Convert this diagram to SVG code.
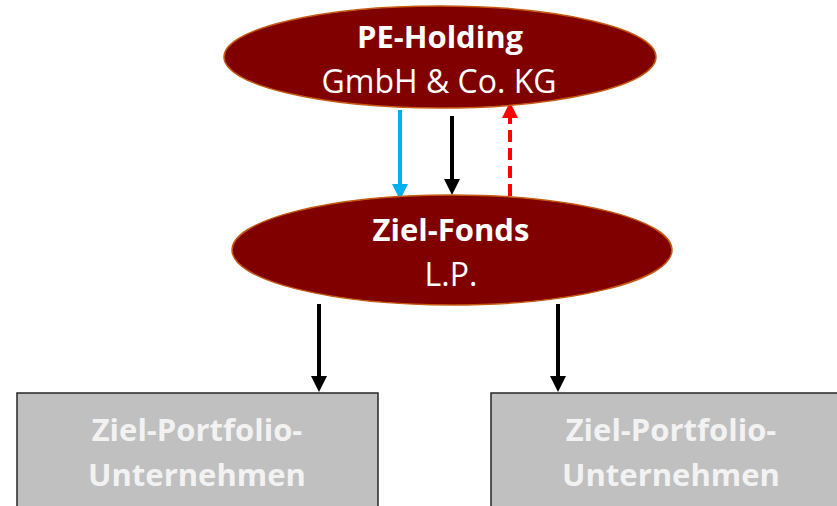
<svg xmlns="http://www.w3.org/2000/svg" width="837" height="506" viewBox="0 0 837 506">
  <style>
    .oval { fill: #800000; stroke: #C55A11; stroke-width: 1.5; }
    .box { fill: #C0C0C0; stroke: #262626; stroke-width: 1.5; }
    .t { font-family: "Open Sans", "Liberation Sans", sans-serif; text-anchor: middle; fill: #FFFFFF; }
    .b { font-weight: bold; font-size: 31px; }
    .r { font-size: 32px; }
    .bt { font-family: "Open Sans", "Liberation Sans", sans-serif; text-anchor: middle; fill: #F2F2F2; font-weight: bold; font-size: 31px; }
    .ln { fill: none; stroke-width: 4; }
  </style>
  <defs>
    <marker id="ah-black" markerWidth="4" markerHeight="4" refX="2" refY="2" orient="auto" markerUnits="strokeWidth" viewBox="0 0 4 4">
      <path d="M0,0 L4,2 L0,4 Z" fill="#000000"/>
    </marker>
    <marker id="ah-blue" markerWidth="4" markerHeight="4" refX="2" refY="2" orient="auto" markerUnits="strokeWidth" viewBox="0 0 4 4">
      <path d="M0,0 L4,2 L0,4 Z" fill="#00B0F0"/>
    </marker>
    <marker id="ah-red" markerWidth="4" markerHeight="4" refX="2" refY="2" orient="auto" markerUnits="strokeWidth" viewBox="0 0 4 4">
      <path d="M0,0 L4,2 L0,4 Z" fill="#FF0000"/>
    </marker>
  </defs>

  <g id="connectors">
    <line class="ln" x1="400" y1="110" x2="400" y2="192" stroke="#00B0F0" marker-end="url(#ah-blue)"/>
    <line class="ln" x1="452" y1="116" x2="452" y2="187" stroke="#000000" marker-end="url(#ah-black)"/>
    <line class="ln" x1="510" y1="196" x2="510" y2="110" stroke="#FF0000" stroke-dasharray="12,6" marker-end="url(#ah-red)"/>
    <line class="ln" x1="319" y1="304" x2="319" y2="384" stroke="#000000" marker-end="url(#ah-black)"/>
    <line class="ln" x1="558" y1="304" x2="558" y2="384" stroke="#000000" marker-end="url(#ah-black)"/>
  </g>

  <g id="pe-holding">
    <ellipse class="oval" cx="440" cy="57" rx="216" ry="51"/>
    <text class="t b" x="440" y="48">PE-Holding</text>
    <text class="t r" x="439" y="93">GmbH &amp; Co. KG</text>
  </g>

  <g id="ziel-fonds">
    <ellipse class="oval" cx="452" cy="250" rx="220" ry="55"/>
    <text class="t b" x="451" y="241">Ziel-Fonds</text>
    <text class="t r" x="451" y="286">L.P.</text>
  </g>

  <g id="portfolio-left">
    <rect class="box" x="17" y="393" width="361" height="130"/>
    <text class="bt" x="197" y="441">Ziel-Portfolio-</text>
    <text class="bt" x="197" y="486">Unternehmen</text>
  </g>

  <g id="portfolio-right">
    <rect class="box" x="491" y="393" width="360" height="130"/>
    <text class="bt" x="671" y="441">Ziel-Portfolio-</text>
    <text class="bt" x="671" y="486">Unternehmen</text>
  </g>
</svg>
